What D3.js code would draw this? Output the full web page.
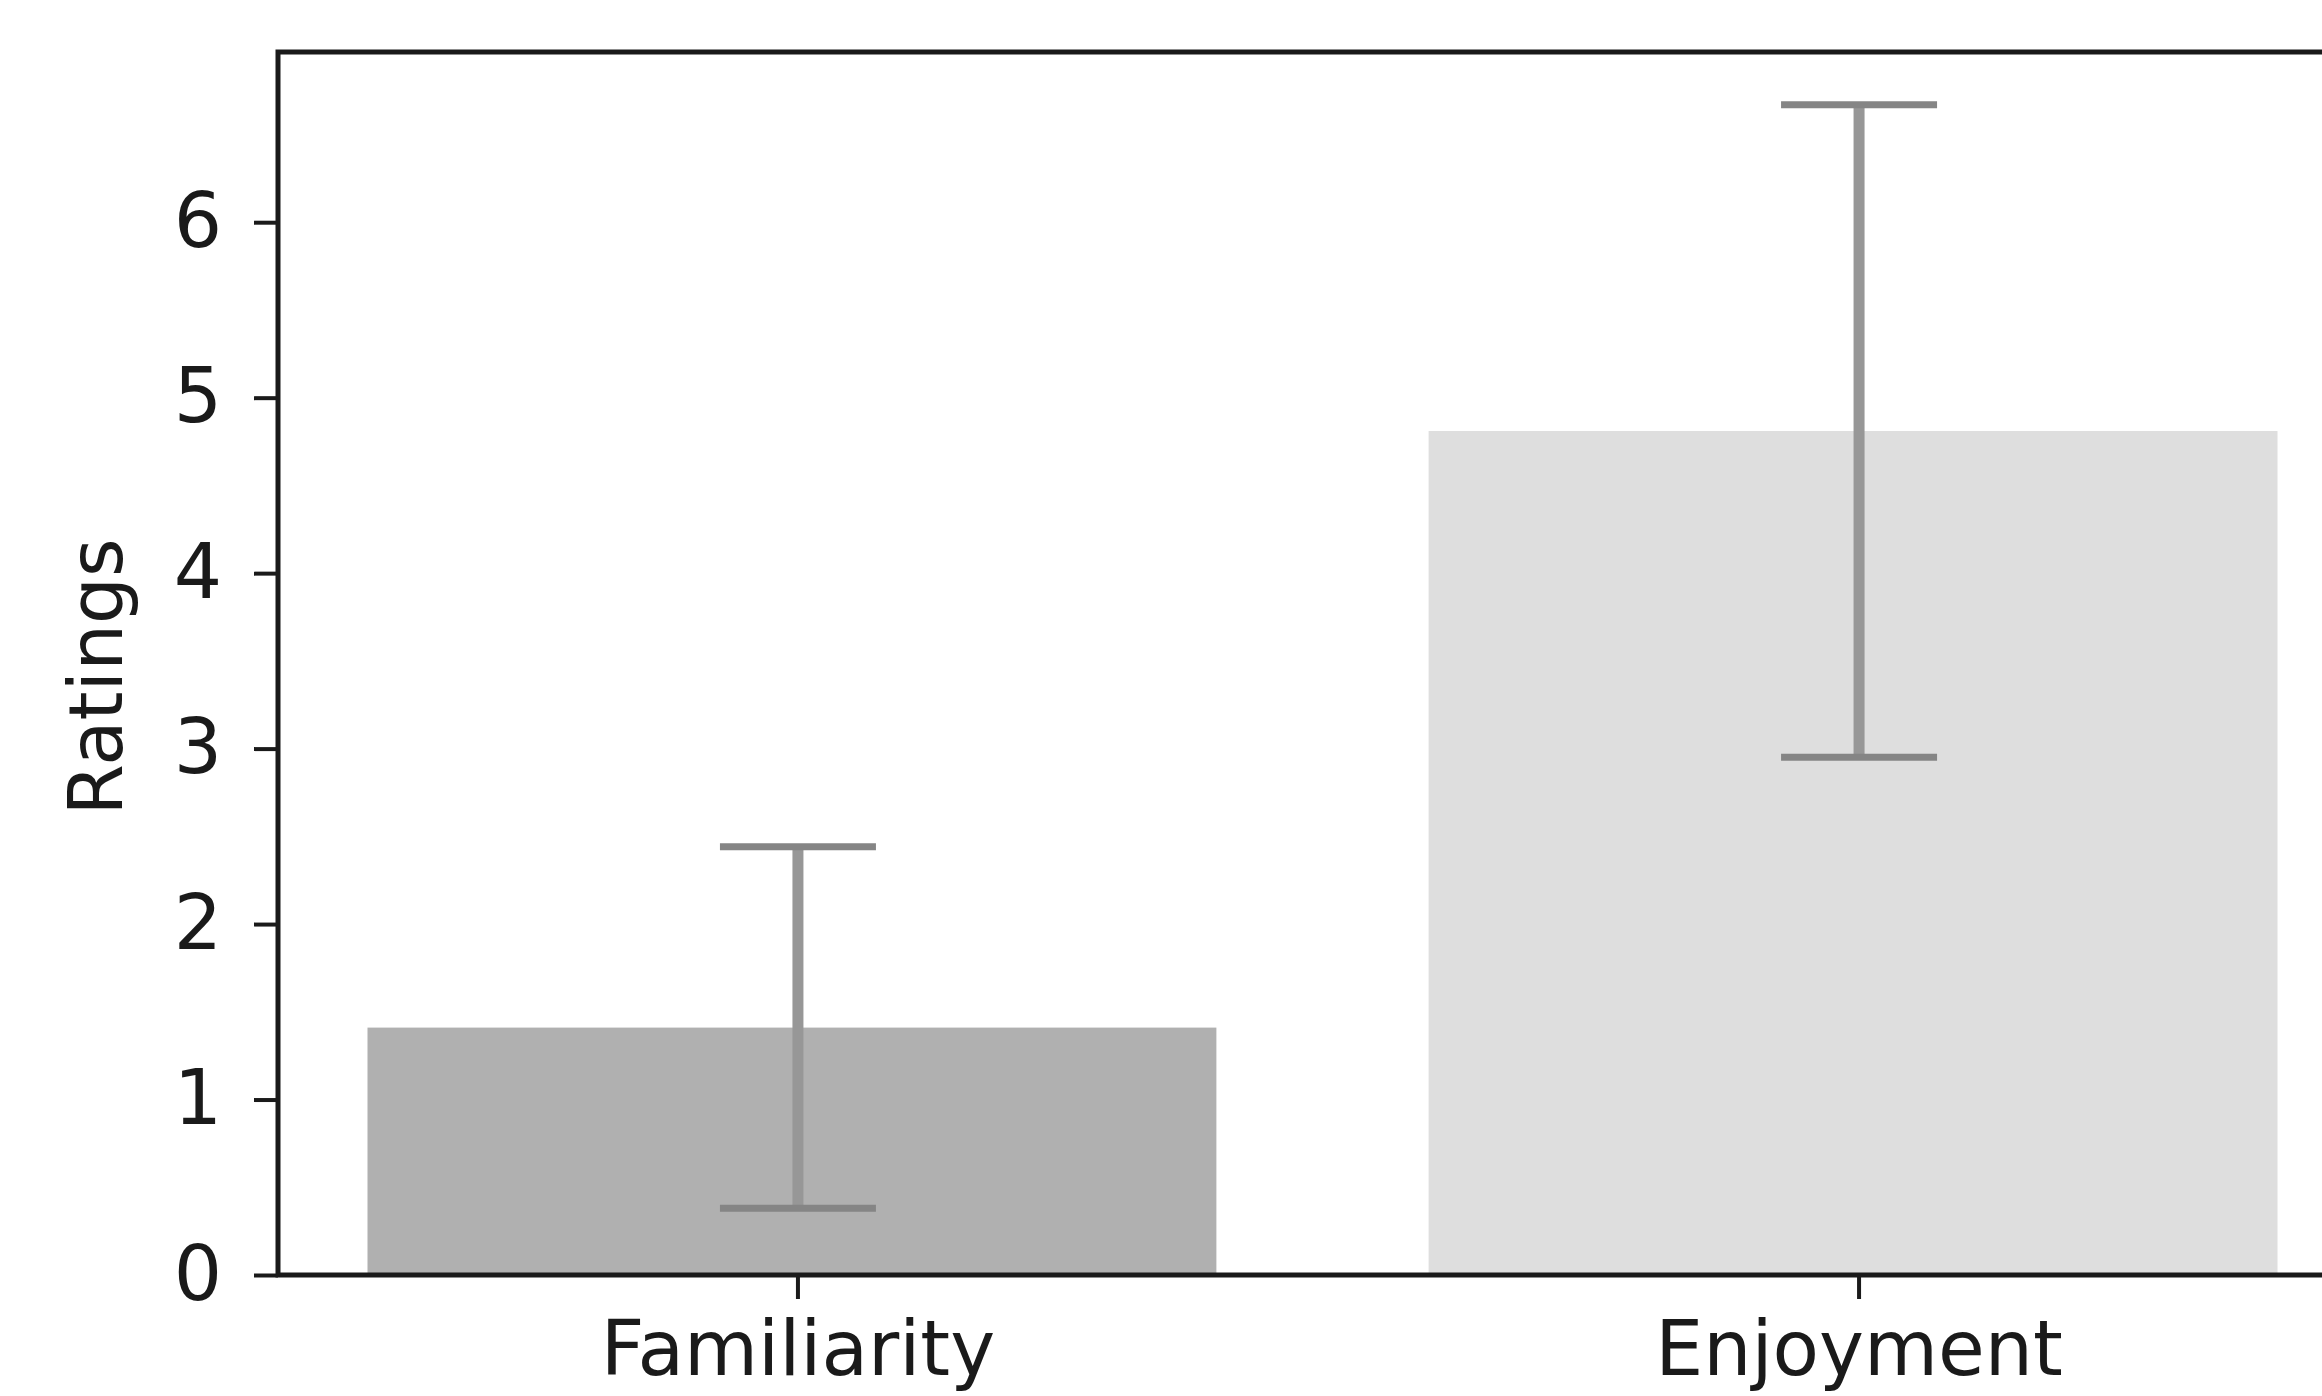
<!DOCTYPE html>
<html>
<head>
<meta charset="utf-8">
<script src="https://cdn.jsdelivr.net/npm/d3@7"></script>
<style>
  html, body { margin: 0; padding: 0; background: #fff; overflow: hidden; }
  svg { display: block; }
  text { font-family: "DejaVu Sans", sans-serif; fill: #1a1a1a; }
</style>
</head>
<body>
<div id="chart"></div>
<script>
// data
const categories = ["Familiarity", "Enjoyment"];
const means = [1.41, 4.81];
const sds = [1.03, 1.86];
const barColors = ["#b0b0b0", "#dedede"];
const yTicks = [0, 1, 2, 3, 4, 5, 6];

const width = 2322, height = 1396;
// the right part of the axes box runs off the canvas, as in the reference
const plot = { left: 278, right: 2379, top: 52, bottom: 1275 };
// bars sit a few pixels left of their ticks in the reference
const barShift = -6;

const svg = d3.select("#chart").append("svg")
    .attr("width", width)
    .attr("height", height);

const x = d3.scaleBand()
    .domain(categories)
    .range([plot.left, plot.right])
    .paddingInner(0.2)
    .paddingOuter(0.09);

const y = d3.scaleLinear()
    .domain([0, 6.97])
    .range([plot.bottom, plot.top]);

const data = categories.map((c, i) => ({ cat: c, mean: means[i], sd: sds[i], color: barColors[i] }));

// bars
svg.selectAll("rect.bar")
    .data(data)
    .enter()
  .append("rect")
    .attr("class", "bar")
    .attr("x", d => x(d.cat) + barShift)
    .attr("y", d => y(d.mean))
    .attr("width", x.bandwidth())
    .attr("height", d => y(0) - y(d.mean))
    .attr("fill", d => d.color);

// error bars
const capHalf = 78;
const err = svg.selectAll("g.err")
    .data(data)
    .enter()
  .append("g")
    .attr("class", "err");

err.append("line")
    .attr("x1", d => x(d.cat) + x.bandwidth() / 2)
    .attr("x2", d => x(d.cat) + x.bandwidth() / 2)
    .attr("y1", d => y(d.mean - d.sd))
    .attr("y2", d => y(d.mean + d.sd))
    .attr("stroke", "#979797")
    .attr("stroke-width", 11);

err.selectAll("line.cap")
    .data(d => [d.mean - d.sd, d.mean + d.sd].map(v => ({ cx: x(d.cat) + x.bandwidth() / 2, v })))
    .enter()
  .append("line")
    .attr("class", "cap")
    .attr("x1", d => d.cx - capHalf)
    .attr("x2", d => d.cx + capHalf)
    .attr("y1", d => y(d.v))
    .attr("y2", d => y(d.v))
    .attr("stroke", "#858585")
    .attr("stroke-width", 7);

// axes
const yAxis = d3.axisLeft(y)
    .tickValues(yTicks)
    .tickFormat(d3.format("d"))
    .tickSize(24)
    .tickPadding(32)
    .tickSizeOuter(0);

const xAxis = d3.axisBottom(x)
    .tickSize(24)
    .tickPadding(21)
    .tickSizeOuter(0);

const gy = svg.append("g")
    .attr("transform", `translate(${plot.left},0)`)
    .call(yAxis);

const gx = svg.append("g")
    .attr("transform", `translate(0,${plot.bottom})`)
    .call(xAxis);

[gy, gx].forEach(g => {
    g.select(".domain").remove();
    g.selectAll(".tick line").attr("stroke", "#1a1a1a").attr("stroke-width", 4);
    g.selectAll(".tick text")
        .attr("font-size", 76)
        .attr("font-family", "DejaVu Sans")
        .attr("fill", "#1a1a1a");
});

gx.selectAll(".tick text").attr("dy", "0.72em");

// frame
svg.append("rect")
    .attr("x", plot.left)
    .attr("y", plot.top)
    .attr("width", plot.right - plot.left)
    .attr("height", plot.bottom - plot.top)
    .attr("fill", "none")
    .attr("stroke", "#1a1a1a")
    .attr("stroke-width", 5);

// y label
svg.append("text")
    .attr("transform", `translate(122,677) rotate(-90)`)
    .attr("text-anchor", "middle")
    .attr("font-size", 74)
    .text("Ratings");
</script>
</body>
</html>
